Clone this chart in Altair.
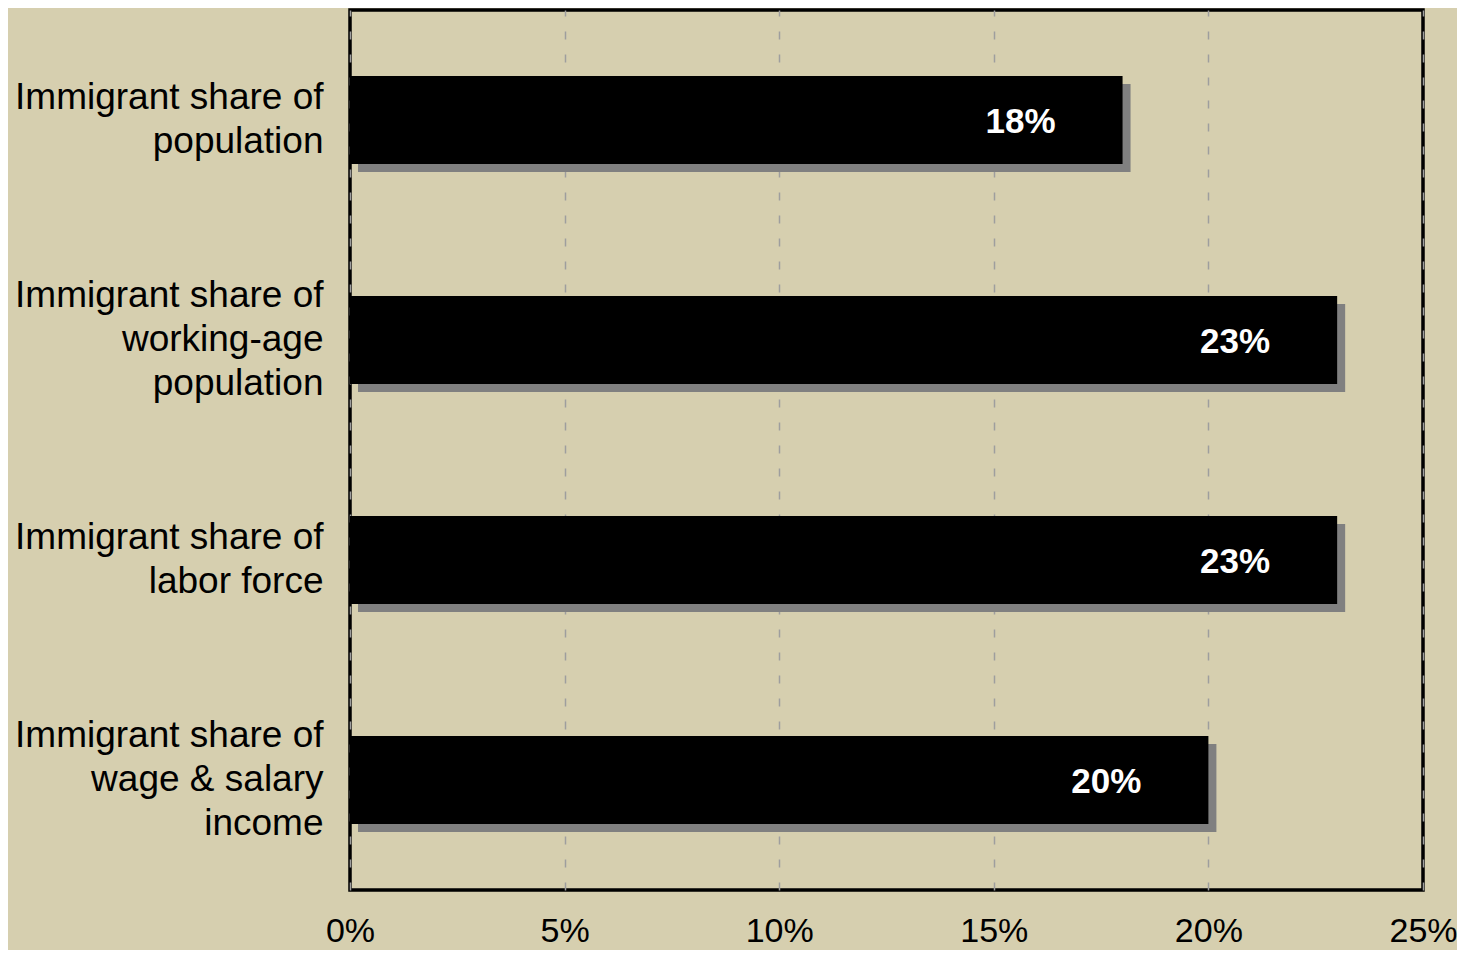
import altair as alt
import pandas as pd

categories = [
    "Immigrant share of|population",
    "Immigrant share of|working-age|population",
    "Immigrant share of|labor force",
    "Immigrant share of|wage & salary|income",
]
values = [0.18, 0.23, 0.23, 0.20]
value_labels = ["18%", "23%", "23%", "20%"]
x_ticks = [0, 0.05, 0.10, 0.15, 0.20, 0.25]

df = pd.DataFrame({"cat": categories, "value": values, "label": value_labels})

FONT = "Liberation Sans"
BG = "#D6CFAF"

y_enc = alt.Y(
    "cat:N",
    sort=categories,
    scale=alt.Scale(paddingInner=0.6, paddingOuter=0.3),
    axis=alt.Axis(
        title=None,
        labelExpr="split(datum.label, '|')",
        labelFont=FONT,
        labelFontSize=37,
        labelColor="black",
        labelLineHeight=44,
        labelPadding=27,
        labelAlign="right",
        labelBaseline="middle",
        labelOffset={
            "condition": {"test": "length(split(datum.value, '|')) > 2", "value": -44},
            "value": -22,
        },
        ticks=False,
        domain=False,
        grid=False,
        labelLimit=500,
    ),
)

x_enc = alt.X(
    "value:Q",
    scale=alt.Scale(domain=[0, 0.25], nice=False),
    axis=alt.Axis(
        title=None,
        values=x_ticks,
        format=".0%",
        labelFont=FONT,
        labelFontSize=34,
        labelColor="black",
        labelPadding=24,
        ticks=False,
        domain=False,
        grid=True,
        gridColor="#9E9E9E",
        gridDash=[8, 15],
        gridWidth=1.5,
        labelFlush=False,
    ),
)

base = alt.Chart(df)

shadow = base.mark_bar(color="#808080", xOffset=8, yOffset=8).encode(
    x=x_enc, y=y_enc
)
bars = base.mark_bar(color="black").encode(x="value:Q", y=alt.Y("cat:N", sort=categories))
texts = base.mark_text(
    color="white", font=FONT, fontSize=35, fontWeight="bold",
    align="right", baseline="middle", dx=-67, dy=2,
).encode(x="value:Q", y=alt.Y("cat:N", sort=categories), text="label:N")

chart = (
    alt.layer(shadow, bars, texts)
    .properties(
        width=1073,
        height=880,
        background=BG,
        padding={"left": 342, "top": 2, "right": 34, "bottom": 60},
        autosize=alt.AutoSizeParams(type="none"),
    )
    .configure_view(stroke="black", strokeWidth=3.5, fill=BG)
)

chart.save("out.html", embed_options={"renderer": "svg", "actions": False})
